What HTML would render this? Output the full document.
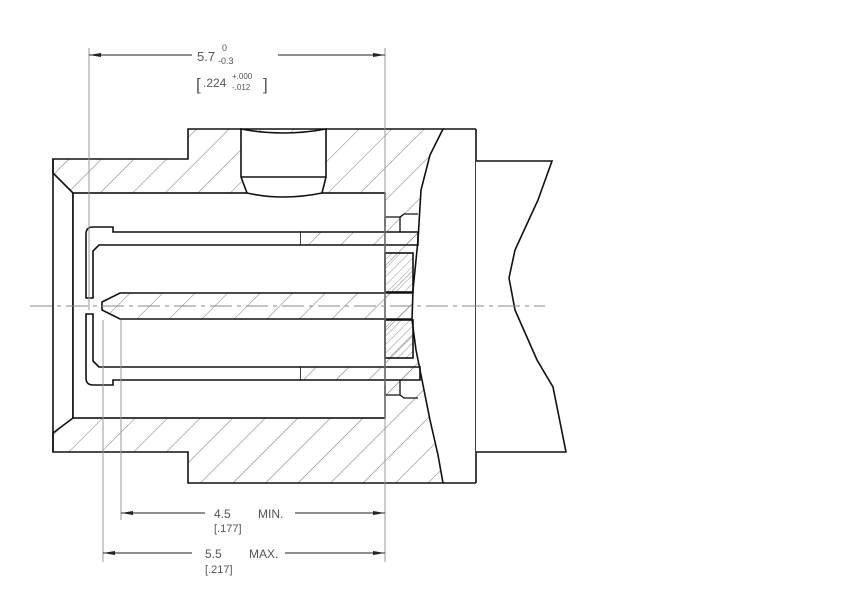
<!DOCTYPE html>
<html><head><style>
html,body{margin:0;padding:0;background:#fff;}
svg{display:block;}
text{font-family:"Liberation Sans",sans-serif;fill:#555;}
</style></head><body>
<svg width="855" height="604" viewBox="0 0 855 604" xmlns="http://www.w3.org/2000/svg">
<defs>
<pattern id="h" patternUnits="userSpaceOnUse" width="23" height="23" patternTransform="rotate(45)">
<line x1="0" y1="0" x2="0" y2="23" stroke="#777" stroke-width="1"/>
</pattern>
<pattern id="h2" patternUnits="userSpaceOnUse" width="6" height="6" patternTransform="rotate(45)">
<line x1="0" y1="0" x2="0" y2="6" stroke="#777" stroke-width="0.8"/>
</pattern>
</defs>
<g stroke="#111" stroke-width="1.6" fill="none">
<!-- body hatched -->
<path d="M53,173 L53,159 L188,159 L188,129 L443,129 L430,155 L421,190 L418,240 L413,290 L412,320 L416,350 L422,380 L430,420 L438,455 L443,483 L188,483 L188,452 L53,452 L53,433 L73,418 L73,193 Z" fill="url(#h)"/>
<!-- outer left face -->
<path d="M53,159 L53,452" />
<path d="M443,129 L476,129 M443,483 L476,483" />
<!-- cavity -->
<rect x="73" y="193" width="312" height="225" fill="#fff"/>
<!-- top hole -->
<path d="M241,129 Q283,137 326,129 L326,177 L322,193 Q283,201 247,193 L241,177 Z" fill="#fff"/>
<path d="M241,177 L326,177"/>
<!-- steps near right -->
<path d="M385,217 L385,227 M385,217 L390,217 L400,217 L400,232 M400,217 L404,214 L418,214" stroke-width="1.3"/>
<path d="M385,385 L385,395 L400,395 L400,380 M400,395 L404,398 L418,398" stroke-width="1.3"/>
<!-- sleeve hatched portions -->
<path d="M300,232 L418,232 L418,245 L300,245 Z" fill="url(#h)"/>
<path d="M300,367 L420,367 L420,380 L300,380 Z" fill="url(#h)"/>
<!-- sleeve upper -->
<path d="M300,232 L113,232 L113,227 L93,227 Q86,227 86,234 L86,298 L93,298 L93,251 L99,245 L300,245" fill="#fff"/>
<!-- sleeve lower -->
<path d="M300,380 L113,380 L113,385 L93,385 Q86,385 86,378 L86,314 L93,314 L93,361 L99,367 L300,367" fill="#fff"/>
<!-- dielectric blocks -->
<rect x="385" y="253" width="28" height="39" fill="url(#h2)"/>
<rect x="385" y="320" width="28" height="38" fill="url(#h2)"/>
<!-- pin -->
<path d="M412,293 L120,293 L102,302 L102,310 L120,319 L412,319" fill="url(#h)"/>
<!-- right body -->
<path d="M476,129 L476,483" />
<path d="M476,161 L552,161 L538,200 L515,250 L509,278 L515,310 L537,360 L553,387 L566,452 L476,452" fill="#fff"/>
</g>
<!-- centerline -->
<line x1="30" y1="306" x2="545" y2="306" stroke="#888" stroke-width="1" stroke-dasharray="22,5,4,5"/>
<!-- extension lines -->
<g stroke="#999" stroke-width="1">
<line x1="89" y1="48" x2="89" y2="310"/>
<line x1="385" y1="48" x2="385" y2="562"/>
<line x1="103" y1="320" x2="103" y2="562"/>
<line x1="121" y1="320" x2="121" y2="520"/>
</g>
<!-- dimension lines -->
<g stroke="#222" stroke-width="1">
<line x1="89" y1="55" x2="192" y2="55"/><line x1="278" y1="55" x2="385" y2="55"/>
<line x1="121" y1="513" x2="205" y2="513"/><line x1="295" y1="513" x2="385" y2="513"/>
<line x1="103" y1="553" x2="192" y2="553"/><line x1="285" y1="553" x2="385" y2="553"/>
</g>
<g fill="#222">
<path d="M89,55 l12,-2 l0,4 z"/><path d="M385,55 l-12,-2 l0,4 z"/>
<path d="M121,513 l12,-2 l0,4 z"/><path d="M385,513 l-12,-2 l0,4 z"/>
<path d="M103,553 l12,-2 l0,4 z"/><path d="M385,553 l-12,-2 l0,4 z"/>
</g>
<text x="197" y="61" font-size="13">5.7</text>
<text x="222" y="51" font-size="9">0</text>
<text x="218" y="64" font-size="9">-0.3</text>
<text x="196" y="90" font-size="17">[</text>
<text x="203" y="87" font-size="12">.224</text>
<text x="232" y="79" font-size="8">+.000</text>
<text x="232" y="90" font-size="8">-.012</text>
<text x="263" y="90" font-size="17">]</text>
<text x="214" y="518" font-size="12">4.5</text>
<text x="258" y="518" font-size="12">MIN.</text>
<text x="214" y="532" font-size="11">[.177]</text>
<text x="205" y="558" font-size="12">5.5</text>
<text x="249" y="558" font-size="12">MAX.</text>
<text x="205" y="573" font-size="11">[.217]</text>
</svg>
</body></html>
